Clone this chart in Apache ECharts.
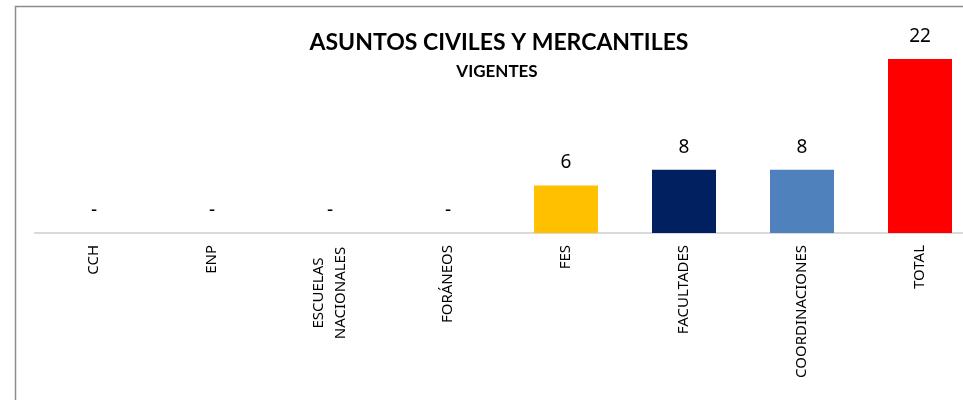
<!DOCTYPE html>
<html><head><meta charset="utf-8">
<script src="https://cdn.jsdelivr.net/npm/echarts@6/dist/echarts.min.js"></script>
<style>html,body{margin:0;padding:0;background:#fff;overflow:hidden}#c{width:1000px;height:400px}</style>
</head><body><div id="c"></div>
<script>
const categories = ['CCH', 'ENP', 'ESCUELAS\nNACIONALES', 'FORÁNEOS', 'FES', 'FACULTADES', 'COORDINACIONES', 'TOTAL'];
const values = [0, 0, 0, 0, 6, 8, 8, 22];
const barColors = ['#FFC000', '#FFC000', '#FFC000', '#FFC000', '#FFC000', '#002060', '#4F81BD', '#FF0000'];
const titleText = 'ASUNTOS CIVILES Y MERCANTILES';
const subtitleText = 'VIGENTES';

const OS = 'Noto Sans';
const chart = echarts.init(document.getElementById('c'), null, {renderer: 'canvas'});
chart.setOption({
  animation: false,
  backgroundColor: '#fff',
  graphic: [{
    type: 'rect', left: 13, top: 4, z: -1,
    shape: {width: 1000, height: 500},
    style: {fill: 'none', stroke: '#8c8c8c', lineWidth: 1.5}
  }],
  title: [
    {text: titleText, left: 494, top: 26, textAlign: 'center',
     textStyle: {fontFamily: 'Lato', fontWeight: 'bold', fontSize: 23, color: '#000'}},
    {text: subtitleText, left: 492, top: 58, textAlign: 'center',
     textStyle: {fontFamily: 'Lato', fontWeight: 'bold', fontSize: 17, color: '#000'}}
  ],
  grid: {left: 35, top: 59, width: 944, height: 174, containLabel: false},
  xAxis: {
    type: 'category', data: categories,
    axisLine: {lineStyle: {color: '#d9d9d9', width: 2}},
    axisTick: {show: false},
    axisLabel: {
      rotate: 90, margin: 12, interval: 0,
      fontFamily: OS, fontSize: 15, color: '#000',
      formatter: function (v) {
        if (v.indexOf('\n') >= 0) {
          return v.split('\n').map(s => '{m|' + s + '}').join('\n');
        }
        return v;
      },
      rich: {m: {width: 96, align: 'center', fontFamily: OS, fontSize: 15, color: '#000', lineHeight: 22}}
    }
  },
  yAxis: {type: 'value', min: 0, max: 22, show: false, splitLine: {show: false}},
  series: [{
    type: 'bar', barWidth: 64,
    data: values.map((v, i) => ({value: v, itemStyle: {color: barColors[i]}})),
    label: {
      show: true, position: 'top', distance: 13,
      fontFamily: OS, fontSize: 19, color: '#000',
      formatter: p => p.value === 0 ? '-' : String(p.value)
    }
  }]
});
</script></body></html>
